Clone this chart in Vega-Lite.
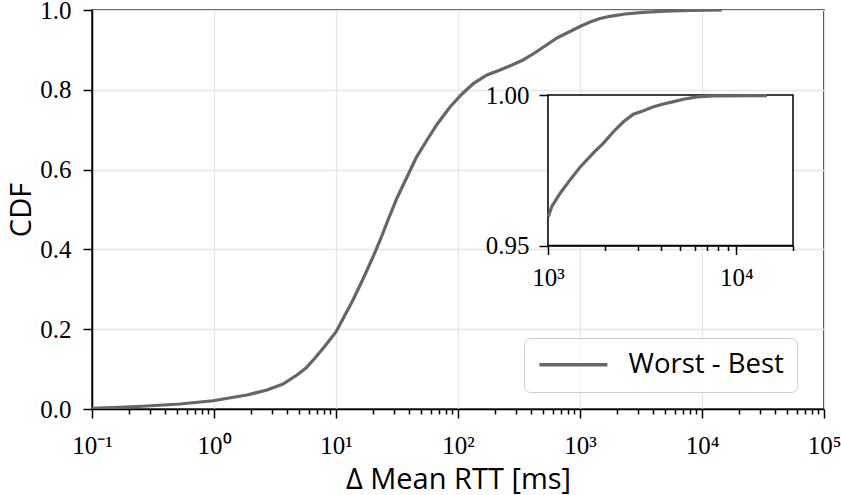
{
  "$schema": "https://vega.github.io/schema/vega-lite/v6.json",
  "width": 732,
  "height": 399,
  "autosize": {"type": "none"},
  "padding": {"left": 92, "top": 10, "right": 17, "bottom": 86},
  "background": "white",
  "config": {
    "view": {"stroke": "black", "strokeWidth": 1.5},
    "axis": {
      "domainColor": "black",
      "domainWidth": 1.5,
      "tickColor": "black",
      "tickWidth": 1.5,
      "labelColor": "black",
      "labelFont": "Liberation Serif, Times New Roman, serif",
      "labelFontSize": 25,
      "titleFont": "Open Sans",
      "titleFontSize": 29,
      "titleFontWeight": "normal",
      "titleColor": "black",
      "gridColor": "#e6e6e6",
      "gridWidth": 1.3
    }
  },
  "datasets": {
    "main": [
      {"rtt": 0.1, "cdf": 0.0018},
      {"rtt": 0.1697, "cdf": 0.0043},
      {"rtt": 0.2824, "cdf": 0.0075},
      {"rtt": 0.5264, "cdf": 0.0125},
      {"rtt": 0.9813, "cdf": 0.0206},
      {"rtt": 1.864, "cdf": 0.0351},
      {"rtt": 2.719, "cdf": 0.0476},
      {"rtt": 3.678, "cdf": 0.0627},
      {"rtt": 4.789, "cdf": 0.0852},
      {"rtt": 5.677, "cdf": 0.1028},
      {"rtt": 6.729, "cdf": 0.1278},
      {"rtt": 8.124, "cdf": 0.1579},
      {"rtt": 10.0, "cdf": 0.193},
      {"rtt": 11.85, "cdf": 0.2356},
      {"rtt": 13.78, "cdf": 0.2732},
      {"rtt": 16.65, "cdf": 0.3258},
      {"rtt": 20.11, "cdf": 0.381},
      {"rtt": 23.38, "cdf": 0.4286},
      {"rtt": 26.69, "cdf": 0.4737},
      {"rtt": 31.62, "cdf": 0.5288},
      {"rtt": 38.19, "cdf": 0.5815},
      {"rtt": 45.27, "cdf": 0.6291},
      {"rtt": 55.7, "cdf": 0.6742},
      {"rtt": 68.58, "cdf": 0.7168},
      {"rtt": 86.0, "cdf": 0.7569},
      {"rtt": 107.8, "cdf": 0.7895},
      {"rtt": 135.2, "cdf": 0.817},
      {"rtt": 172.9, "cdf": 0.8371},
      {"rtt": 221.0, "cdf": 0.8496},
      {"rtt": 277.1, "cdf": 0.8622},
      {"rtt": 341.1, "cdf": 0.8747},
      {"rtt": 411.9, "cdf": 0.8897},
      {"rtt": 516.6, "cdf": 0.9098},
      {"rtt": 647.8, "cdf": 0.9298},
      {"rtt": 812.4, "cdf": 0.9449},
      {"rtt": 1000, "cdf": 0.9586},
      {"rtt": 1208, "cdf": 0.9699},
      {"rtt": 1458, "cdf": 0.9787},
      {"rtt": 1762, "cdf": 0.9842},
      {"rtt": 2338, "cdf": 0.99},
      {"rtt": 3283, "cdf": 0.9942},
      {"rtt": 4973, "cdf": 0.997},
      {"rtt": 7971, "cdf": 0.9993},
      {"rtt": 14582, "cdf": 1.0}
    ],
    "inset": [
      {"rtt": 1004, "cdf": 0.9596},
      {"rtt": 1046, "cdf": 0.9629},
      {"rtt": 1158, "cdf": 0.9673},
      {"rtt": 1310, "cdf": 0.9718},
      {"rtt": 1480, "cdf": 0.976},
      {"rtt": 1742, "cdf": 0.9808},
      {"rtt": 1970, "cdf": 0.984},
      {"rtt": 2225, "cdf": 0.9878},
      {"rtt": 2515, "cdf": 0.9911},
      {"rtt": 2842, "cdf": 0.9936},
      {"rtt": 3213, "cdf": 0.9948},
      {"rtt": 3631, "cdf": 0.9961},
      {"rtt": 4105, "cdf": 0.997},
      {"rtt": 4640, "cdf": 0.9978},
      {"rtt": 5245, "cdf": 0.9986},
      {"rtt": 6180, "cdf": 0.9994},
      {"rtt": 7570, "cdf": 0.9997},
      {"rtt": 14550, "cdf": 0.9998}
    ]
  },
  "layer": [
    {
      "data": {"name": "main"},
      "mark": {"type": "line", "strokeWidth": 3.2, "clip": true},
      "encoding": {
        "x": {
          "field": "rtt",
          "type": "quantitative",
          "scale": {"type": "log", "domain": [0.1, 100000], "nice": false},
          "axis": {
            "title": "Δ Mean RTT [ms]",
            "values": [0.1, 0.2, 0.3, 0.4, 0.5, 0.6, 0.7, 0.8, 0.9, 1, 2, 3, 4, 5, 6, 7, 8, 9, 10, 20, 30, 40, 50, 60, 70, 80, 90, 100, 200, 300, 400, 500, 600, 700, 800, 900, 1000, 2000, 3000, 4000, 5000, 6000, 7000, 8000, 9000, 10000, 20000, 30000, 40000, 50000, 60000, 70000, 80000, 90000, 100000],
            "labelExpr": "datum.value == 0.1 ? '10⁻¹' : datum.value == 1 ? '10⁰' : datum.value == 10 ? '10¹' : datum.value == 100 ? '10²' : datum.value == 1000 ? '10³' : datum.value == 10000 ? '10⁴' : datum.value == 100000 ? '10⁵' : ''",
            "tickSize": {"condition": {"test": "abs(log(datum.value)/LN10 - round(log(datum.value)/LN10)) < 0.001", "value": 9}, "value": 5},
            "gridOpacity": {"condition": {"test": "abs(log(datum.value)/LN10 - round(log(datum.value)/LN10)) < 0.001", "value": 1}, "value": 0},
            "grid": true,
            "labelPadding": 15,
            "labelFlush": false,
            "labelOverlap": false,
            "titlePadding": 7
          }
        },
        "y": {
          "field": "cdf",
          "type": "quantitative",
          "scale": {"domain": [0, 1], "nice": false},
          "axis": {
            "title": "CDF",
            "values": [0, 0.2, 0.4, 0.6, 0.8, 1.0],
            "format": ".1f",
            "tickSize": 9,
            "labelPadding": 12,
            "grid": true,
            "titlePadding": 3
          }
        },
        "color": {
          "datum": "Worst - Best",
          "type": "nominal",
          "scale": {"range": ["#666666"]},
          "legend": {
            "title": null,
            "orient": "none",
            "legendX": 432,
            "legendY": 328,
            "symbolType": "M-1,0H5",
            "symbolSize": 514,
            "symbolStrokeWidth": 3.5,
            "symbolFillColor": "transparent",
            "symbolStrokeColor": "#666666",
            "labelFont": "Open Sans",
            "labelFontSize": 27.5,
            "labelColor": "black",
            "labelOffset": 64,
            "strokeColor": "#cccccc",
            "fillColor": "rgba(255,255,255,0.8)",
            "cornerRadius": 6,
            "padding": 13
          }
        }
      }
    },
    {
      "layer": [
        {
          "data": {"values": [{}]},
          "mark": {"type": "rect", "fill": "white", "stroke": "black", "strokeWidth": 1.5},
          "encoding": {
            "x": {"datum": 1000, "type": "quantitative", "scale": {"type": "log", "domain": [1000, 20000], "range": [456, 701], "nice": false}},
            "x2": {"datum": 20000},
            "y": {"datum": 0.95, "type": "quantitative", "scale": {"domain": [0.95, 1.0], "range": [235.5, 85], "nice": false, "zero": false}},
            "y2": {"datum": 1.0}
          }
        },
        {
          "data": {"name": "inset"},
          "mark": {"type": "line", "strokeWidth": 3.2, "color": "#666666", "clip": true},
          "encoding": {
            "x": {
              "field": "rtt",
              "type": "quantitative",
              "scale": {"type": "log", "domain": [1000, 20000], "range": [456, 701], "nice": false},
              "axis": {
                "title": null,
                "orient": "bottom",
                "offset": -163.5,
                "grid": false,
                "values": [1000, 2000, 3000, 4000, 5000, 6000, 7000, 8000, 9000, 10000, 20000],
                "labelExpr": "datum.value == 1000 ? '10³' : datum.value == 10000 ? '10⁴' : ''",
                "tickSize": {"condition": {"test": "datum.value == 1000 || datum.value == 10000", "value": 9}, "value": 5},
                "labelPadding": 11,
                "labelFlush": false,
                "labelOverlap": false
              }
            },
            "y": {
              "field": "cdf",
              "type": "quantitative",
              "scale": {"domain": [0.95, 1.0], "range": [235.5, 85], "nice": false, "zero": false},
              "axis": {
                "title": null,
                "orient": "left",
                "offset": -456,
                "grid": false,
                "values": [0.95, 1.0],
                "format": ".2f",
                "tickSize": 9,
                "labelPadding": 10
              }
            }
          }
        }
      ]
    }
  ],
  "resolve": {
    "scale": {"x": "independent", "y": "independent"},
    "axis": {"x": "independent", "y": "independent"}
  }
}
